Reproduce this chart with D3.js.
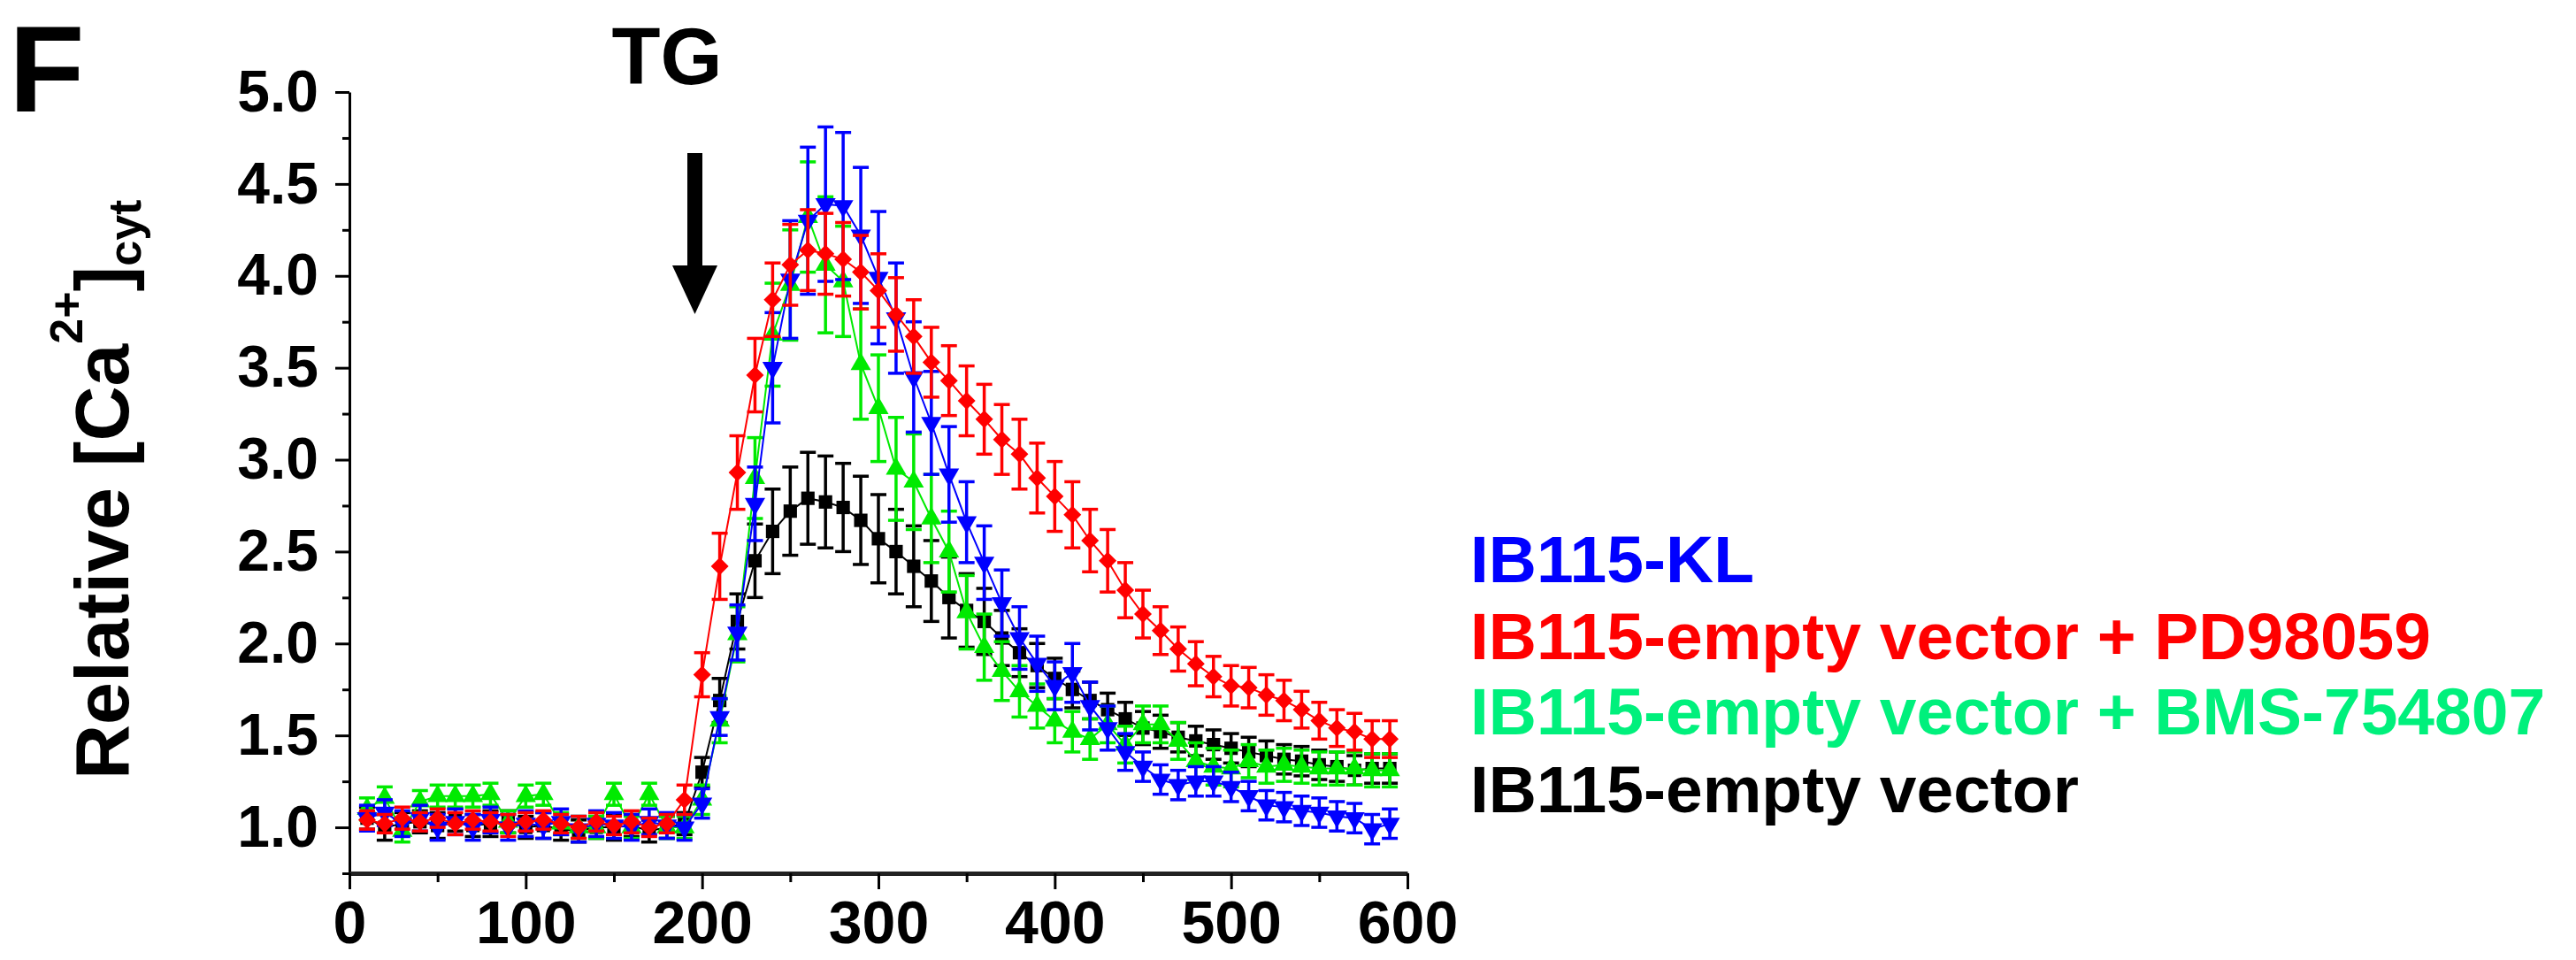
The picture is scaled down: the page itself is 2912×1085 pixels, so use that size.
<!DOCTYPE html>
<html>
<head>
<meta charset="utf-8">
<script src="https://cdn.jsdelivr.net/npm/d3@7"></script>
<style>
  body { margin: 0; background: #fff; }
  svg { display: block; }
  text { font-family: "Liberation Sans", Arial, sans-serif; font-weight: bold; }
</style>
</head>
<body>
<div id="chart"></div>
<script>
// time points (s)
const times = [10, 20, 30, 40, 50, 60, 70, 80, 90, 100, 110, 120, 130, 140, 150, 160, 170, 180, 190,
  200, 210, 220, 230, 240, 250, 260, 270, 280, 290, 300, 310, 320, 330, 340, 350, 360, 370, 380, 390,
  400, 410, 420, 430, 440, 450, 460, 470, 480, 490, 500, 510, 520, 530, 540, 550, 560, 570, 580, 590]

// IB115-empty vector (black)
const emptyMean = [1.05, 1.00, 1.02, 1.03, 1.01, 1.04, 1.01, 1.02, 1.03, 1.00, 1.01, 0.99, 0.98, 1.00, 1.00, 1.01, 0.98, 1.00, 1.02,
  1.30, 1.69, 2.12, 2.45, 2.61, 2.72, 2.79, 2.77, 2.74, 2.67, 2.57, 2.50, 2.42, 2.34, 2.25, 2.18, 2.12, 2.03, 1.95, 1.88,
  1.81, 1.75, 1.69, 1.64, 1.59, 1.54, 1.52, 1.49, 1.47, 1.45, 1.43, 1.41, 1.39, 1.37, 1.36, 1.34, 1.33, 1.31, 1.32, 1.32]
const emptyErr = [0.06, 0.07, 0.06, 0.06, 0.07, 0.06, 0.06, 0.07, 0.06, 0.06, 0.07, 0.06, 0.06, 0.06, 0.07, 0.06, 0.06, 0.06, 0.06,
  0.08, 0.12, 0.15, 0.20, 0.23, 0.24, 0.25, 0.25, 0.24, 0.24, 0.24, 0.23, 0.22, 0.22, 0.22, 0.20, 0.18, 0.15, 0.13, 0.12,
  0.11, 0.10, 0.10, 0.09, 0.09, 0.09, 0.09, 0.08, 0.08, 0.08, 0.08, 0.08, 0.08, 0.08, 0.08, 0.08, 0.08, 0.08, 0.08, 0.08]

// IB115-empty vector + PD98059 (red)
const pdMean = [1.04, 1.02, 1.05, 1.03, 1.05, 1.02, 1.04, 1.03, 1.01, 1.03, 1.04, 1.02, 1.00, 1.03, 1.01, 1.03, 1.00, 1.02, 1.15,
  1.83, 2.42, 2.93, 3.46, 3.87, 4.06, 4.14, 4.12, 4.09, 4.02, 3.92, 3.79, 3.67, 3.53, 3.43, 3.32, 3.22, 3.11, 3.03, 2.90,
  2.80, 2.70, 2.56, 2.45, 2.29, 2.16, 2.07, 1.97, 1.89, 1.82, 1.77, 1.76, 1.72, 1.69, 1.64, 1.58, 1.54, 1.52, 1.48, 1.48]
const pdErr = [0.05, 0.05, 0.06, 0.05, 0.05, 0.06, 0.05, 0.05, 0.06, 0.05, 0.05, 0.05, 0.06, 0.05, 0.05, 0.06, 0.05, 0.05, 0.08,
  0.12, 0.18, 0.20, 0.20, 0.20, 0.22, 0.22, 0.22, 0.20, 0.20, 0.20, 0.20, 0.20, 0.19, 0.19, 0.19, 0.19, 0.19, 0.19, 0.19,
  0.19, 0.18, 0.17, 0.17, 0.15, 0.13, 0.13, 0.12, 0.12, 0.11, 0.11, 0.11, 0.11, 0.11, 0.10, 0.10, 0.10, 0.10, 0.10, 0.10]

// IB115-empty vector + BMS-754807 (green)
const bmsMean = [1.10, 1.16, 0.98, 1.14, 1.17, 1.17, 1.17, 1.18, 1.03, 1.17, 1.18, 1.02, 1.00, 1.00, 1.18, 1.00, 1.18, 1.00, 1.00,
  1.15, 1.58, 2.05, 2.90, 3.68, 3.95, 4.32, 4.06, 3.97, 3.52, 3.28, 2.95, 2.88, 2.68, 2.50, 2.17, 1.98, 1.85, 1.74, 1.66,
  1.58, 1.52, 1.48, 1.56, 1.45, 1.56, 1.56, 1.47, 1.36, 1.33, 1.32, 1.36, 1.33, 1.34, 1.33, 1.32, 1.32, 1.32, 1.31, 1.31]
const bmsErr = [0.06, 0.06, 0.06, 0.06, 0.06, 0.06, 0.06, 0.06, 0.06, 0.06, 0.06, 0.06, 0.06, 0.06, 0.06, 0.06, 0.06, 0.06, 0.06,
  0.08, 0.12, 0.15, 0.22, 0.28, 0.30, 0.30, 0.37, 0.30, 0.30, 0.29, 0.28, 0.26, 0.24, 0.22, 0.20, 0.18, 0.16, 0.14, 0.12,
  0.12, 0.11, 0.11, 0.10, 0.10, 0.10, 0.10, 0.10, 0.10, 0.10, 0.10, 0.09, 0.09, 0.09, 0.09, 0.09, 0.09, 0.09, 0.09, 0.09]

// IB115-KL (blue)
const klMean = [1.05, 1.08, 1.02, 1.05, 1.00, 1.03, 1.00, 1.04, 1.00, 1.02, 1.01, 1.03, 0.99, 1.02, 1.01, 1.00, 1.03, 1.01, 1.00,
  1.13, 1.60, 2.06, 2.76, 3.50, 3.98, 4.30, 4.39, 4.38, 4.22, 3.99, 3.77, 3.45, 3.20, 2.92, 2.66, 2.44, 2.22, 2.03, 1.89,
  1.77, 1.84, 1.66, 1.54, 1.41, 1.33, 1.26, 1.23, 1.25, 1.25, 1.22, 1.17, 1.12, 1.11, 1.09, 1.08, 1.06, 1.05, 0.99, 1.02]
const klErr = [0.07, 0.07, 0.07, 0.07, 0.07, 0.07, 0.07, 0.07, 0.07, 0.07, 0.07, 0.07, 0.07, 0.07, 0.07, 0.07, 0.07, 0.07, 0.07,
  0.08, 0.10, 0.15, 0.20, 0.30, 0.32, 0.40, 0.42, 0.40, 0.37, 0.36, 0.30, 0.30, 0.28, 0.26, 0.22, 0.20, 0.18, 0.17, 0.15,
  0.13, 0.16, 0.13, 0.12, 0.10, 0.08, 0.08, 0.08, 0.08, 0.08, 0.08, 0.08, 0.08, 0.08, 0.08, 0.08, 0.08, 0.08, 0.08, 0.08]

const xTicks = [0, 100, 200, 300, 400, 500, 600]
const xMinorTicks = [50, 150, 250, 350, 450, 550]
const yTicks = [1.0, 1.5, 2.0, 2.5, 3.0, 3.5, 4.0, 4.5, 5.0]
const yMinorTicks = [0.75, 1.25, 1.75, 2.25, 2.75, 3.25, 3.75, 4.25, 4.75]

const legendLabels = ['IB115-KL', 'IB115-empty vector + PD98059', 'IB115-empty vector + BMS-754807', 'IB115-empty vector']
const legendColors = ['#0000ff', '#ff0000', '#00f07c', '#000000']

const w = 2912
const h = 1085

const svg = d3.select('#chart')
  .append('svg')
  .attr('width', w)
  .attr('height', h)

const xScale = d3.scaleLinear()
  .domain([0, 600])
  .range([395, 1591])

const yScale = d3.scaleLinear()
  .domain([0.75, 5.0])
  .range([987, 104])

// axes
const yAxis = d3.axisLeft(yScale)
  .tickValues(yTicks)
  .tickSize(16)
  .tickSizeOuter(0)
  .tickPadding(19)
  .tickFormat(d3.format('.1f'))

const yAxisMinor = d3.axisLeft(yScale)
  .tickValues(yMinorTicks)
  .tickSize(8)
  .tickSizeOuter(0)
  .tickFormat('')

const xAxis = d3.axisBottom(xScale)
  .tickValues(xTicks)
  .tickSize(18)
  .tickSizeOuter(0)
  .tickPadding(13)

const xAxisMinor = d3.axisBottom(xScale)
  .tickValues(xMinorTicks)
  .tickSize(10)
  .tickSizeOuter(0)
  .tickFormat('')

const gy = svg.append('g').attr('transform', 'translate(395,0)').call(yAxis)
svg.append('g').attr('transform', 'translate(395,0)').call(yAxisMinor)
  .select('.domain').remove()
const gx = svg.append('g').attr('transform', 'translate(0,987)').call(xAxis)
svg.append('g').attr('transform', 'translate(0,987)').call(xAxisMinor)
  .select('.domain').remove()

svg.selectAll('.tick line').attr('stroke', '#000').attr('stroke-width', 3)
gy.select('.domain').attr('stroke', '#000').attr('stroke-width', 3)
gx.select('.domain').attr('stroke', '#222').attr('stroke-width', 5)
gy.selectAll('.tick text').attr('font-size', 66).attr('fill', '#000')
  .attr('font-family', '"Liberation Sans", Arial, sans-serif').attr('font-weight', 'bold')
gx.selectAll('.tick text').attr('font-size', 68).attr('fill', '#000')
  .attr('font-family', '"Liberation Sans", Arial, sans-serif').attr('font-weight', 'bold')

// series, drawn black first so the coloured ones sit on top
const series = [
  { mean: emptyMean, err: emptyErr, color: '#000000', symbol: d3.symbolSquare, size: 230, rotate: 0 },
  { mean: bmsMean, err: bmsErr, color: '#00ea00', symbol: d3.symbolTriangle, size: 230, rotate: 0 },
  { mean: klMean, err: klErr, color: '#0000ff', symbol: d3.symbolTriangle, size: 230, rotate: 180 },
  { mean: pdMean, err: pdErr, color: '#ff0000', symbol: d3.symbolSquare, size: 200, rotate: 45 }
]

const capW = 9

series.forEach(s => {
  const pts = times.map((t, i) => ({ t: t, v: s.mean[i], e: s.err[i] }))
  const g = svg.append('g')

  const line = d3.line()
    .x(d => xScale(d.t))
    .y(d => yScale(d.v))

  g.append('path')
    .datum(pts)
    .attr('d', line)
    .attr('fill', 'none')
    .attr('stroke', s.color)
    .attr('stroke-width', 2)

  const bars = g.selectAll('.bar')
    .data(pts)
    .enter()
    .append('g')
    .attr('stroke', s.color)
    .attr('stroke-width', 3.5)

  bars.append('line')
    .attr('x1', d => xScale(d.t))
    .attr('x2', d => xScale(d.t))
    .attr('y1', d => yScale(d.v - d.e))
    .attr('y2', d => yScale(d.v + d.e))
  bars.append('line')
    .attr('x1', d => xScale(d.t) - capW)
    .attr('x2', d => xScale(d.t) + capW)
    .attr('y1', d => yScale(d.v + d.e))
    .attr('y2', d => yScale(d.v + d.e))
  bars.append('line')
    .attr('x1', d => xScale(d.t) - capW)
    .attr('x2', d => xScale(d.t) + capW)
    .attr('y1', d => yScale(d.v - d.e))
    .attr('y2', d => yScale(d.v - d.e))

  g.selectAll('.marker')
    .data(pts)
    .enter()
    .append('path')
    .attr('d', d3.symbol().type(s.symbol).size(s.size))
    .attr('transform', d => 'translate(' + xScale(d.t) + ',' + yScale(d.v) + ') rotate(' + s.rotate + ')')
    .attr('fill', s.color)
})

// panel letter and TG marker
svg.append('text')
  .attr('x', 10)
  .attr('y', 126)
  .attr('font-size', 140)
  .text('F')

svg.append('text')
  .attr('x', 754)
  .attr('y', 95)
  .attr('text-anchor', 'middle')
  .attr('font-size', 90)
  .text('TG')

svg.append('rect')
  .attr('x', 777)
  .attr('y', 173)
  .attr('width', 17)
  .attr('height', 130)
  .attr('fill', '#000')
svg.append('path')
  .attr('d', 'M760,300 L811,300 L785.5,355 Z')
  .attr('fill', '#000')

// y axis title
const yTitle = svg.append('text')
  .attr('transform', 'rotate(-90)')
  .attr('x', -881)
  .attr('y', 145)
  .attr('font-size', 86)
yTitle.append('tspan').text('Relative [Ca')
yTitle.append('tspan').attr('font-size', 52).attr('dy', -52).text('2+')
yTitle.append('tspan').attr('dy', 52).text(']')
yTitle.append('tspan').attr('font-size', 52).attr('dy', 14).text('cyt')

// legend
svg.selectAll('.legend')
  .data(legendLabels)
  .enter()
  .append('text')
  .attr('x', 1662)
  .attr('y', (d, i) => [658, 745, 830, 918][i])
  .attr('font-size', 75)
  .attr('fill', (d, i) => legendColors[i])
  .text(d => d)
</script>
</body>
</html>
